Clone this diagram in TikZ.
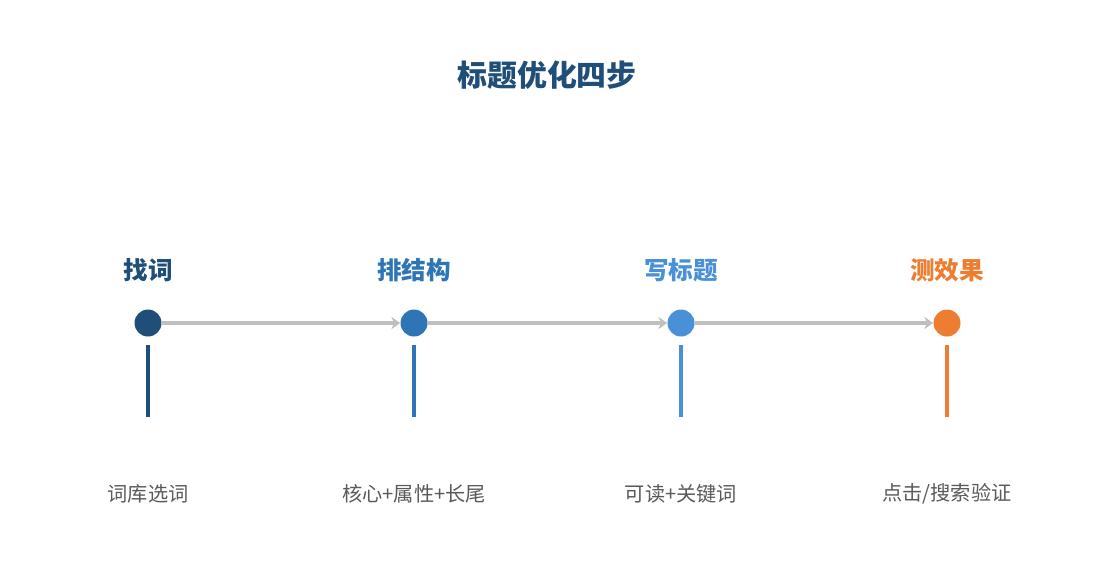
\documentclass[tikz,border=0pt]{standalone}
\usepackage{fontspec}
\setmainfont{Noto Sans CJK SC}
\usetikzlibrary{arrows.meta}
\definecolor{cA}{HTML}{1F4E79}
\definecolor{cB}{HTML}{2E75B6}
\definecolor{cC}{HTML}{4A90D9}
\definecolor{cD}{HTML}{ED7D31}
\definecolor{linegray}{HTML}{BFBFBF}
\definecolor{txtgray}{HTML}{595959}
\tikzset{
  dot/.style={circle,fill=#1,minimum size=0.54cm,inner sep=0pt},
  step/.style={font=\bfseries\fontsize{14}{16}\selectfont,text=#1},
  note/.style={font=\fontsize{11.5}{14}\selectfont,text=txtgray},
  flow/.style={draw=linegray,line width=2pt,-{Stealth[length=5pt,width=7pt]}}
}
\begin{document}
\begin{tikzpicture}[x=0.02cm,y=-0.02cm]
  \useasboundingbox (0,0) rectangle (1095,585);
  \node[font=\bfseries\fontsize{17}{20}\selectfont,text=cA] (title) at (547,75) {标题优化四步};

  \foreach \n/\x/\c/\s/\t in {a/148/cA/找词/{词库选词}, b/414/cB/排结构/{核心+属性+长尾},
      c/681/cC/写标题/{可读+关键词}, d/947/cD/测效果/{点击/搜索验证}} {
    \node[step=\c] (s\n) at (\x,270) {\s};
    \node[dot=\c] (p\n) at (\x,323) {};
    \coordinate (u\n) at (\x,345);
    \coordinate (l\n) at (\x,417);
    \draw[\c,line width=2.5pt] (u\n) -- (l\n);
    \node[note] (t\n) at (\x,494) {\t};
  }

  \draw[flow] (pa) -- (pb);
  \draw[flow] (pb) -- (pc);
  \draw[flow] (pc) -- (pd);
\end{tikzpicture}
\end{document}
